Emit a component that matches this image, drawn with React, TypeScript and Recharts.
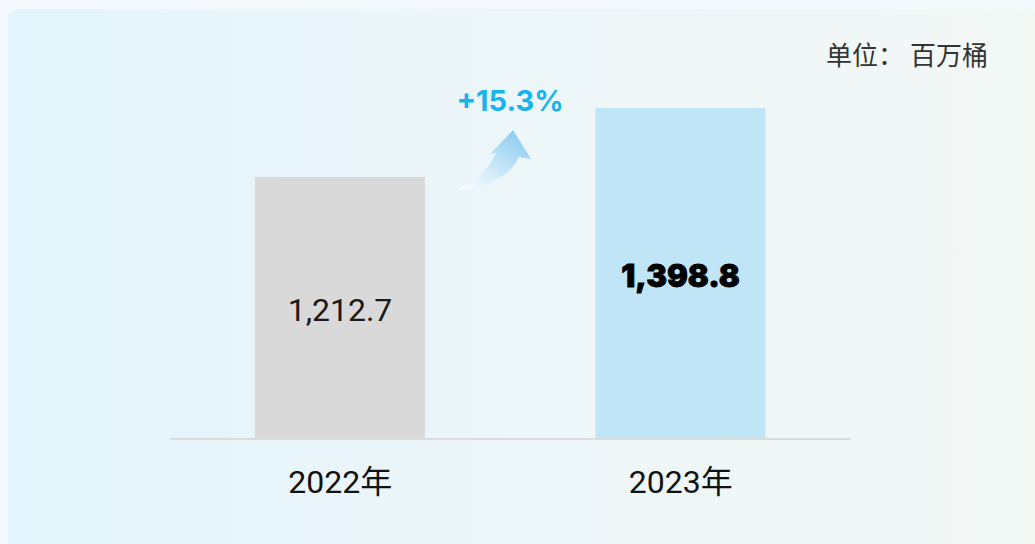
import React from 'react';
import { Bar, BarChart, Cell, LabelList, XAxis, YAxis } from 'recharts';

const YEARS = ['2022年', '2023年'];
const VOLUMES = [1212.7, 1398.8];
const BAR_COLORS = ['#d9d9d9', '#c0e5f7'];
const GROWTH = '+15.3%';
const UNIT_LABEL = '单位：';
const UNIT = '百万桶';

const FONT = 'Roboto, "Noto Sans CJK SC", sans-serif';

const data = YEARS.map((year, i) => ({ year, value: VOLUMES[i] }));

function ValueLabel(props: any) {
  const { x, y, width, height, value, index } = props;
  const bold = index === 1;
  return (
    <text
      x={x + width / 2}
      y={y + height / 2 + 2}
      textAnchor="middle"
      dominantBaseline="central"
      fontFamily={bold ? 'Inter, "Noto Sans", sans-serif' : FONT}
      fontSize={bold ? 31 : 32}
      fontWeight={bold ? 900 : 400}
      fill={bold ? '#000' : '#1a1a1a'}
      stroke={bold ? '#000' : 'none'}
      strokeWidth={bold ? 0.8 : 0}
    >
      {Number(value).toLocaleString('en-US', { minimumFractionDigits: 1 })}
    </text>
  );
}

function YearTick({ x, y, payload }: any) {
  return (
    <text x={x} y={y + 46} textAnchor="middle" fontFamily={FONT} fontSize={32} fill="#111">
      {payload.value}
    </text>
  );
}

export default function App() {
  return (
    <div style={{ position: 'fixed', left: 0, top: 0, width: 1035, height: 544, background: '#f3f9fc', overflow: 'hidden' }}>
      <div
        style={{
          position: 'absolute',
          left: 8,
          top: 9,
          right: 0,
          bottom: 0,
          borderTopLeftRadius: 10,
          background: 'linear-gradient(90deg, #e3f4fc 0%, #edf6f9 50%, #f3f8f5 100%)',
        }}
      />
      <div
        style={{
          position: 'absolute',
          right: 47,
          top: 35,
          fontFamily: '"Noto Sans CJK SC", sans-serif',
          fontSize: 26,
          color: '#333',
          whiteSpace: 'pre',
        }}
      >
        <span>{UNIT_LABEL}</span>
        <span style={{ marginLeft: 6 }}>{UNIT}</span>
      </div>
      <div
        style={{
          position: 'absolute',
          left: 510,
          top: 100,
          transform: 'translate(-50%, -50%)',
          fontFamily: 'Inter, "Noto Sans", sans-serif',
          fontWeight: 700,
          fontSize: 29,
          color: '#1ab4ec',
        }}
      >
        {GROWTH}
      </div>
      <svg width={1035} height={544} style={{ position: 'absolute', left: 0, top: 0 }}>
        <defs>
          <linearGradient id="arrowFill" x1="0" y1="1" x2="0.7" y2="0">
            <stop offset="0%" stopColor="#ffffff" stopOpacity={0.9} />
            <stop offset="100%" stopColor="#8ecdf1" />
          </linearGradient>
        </defs>
        <path
          d="M458,189 Q485,178 496,153 L490,154 L513,130 L531,159 L519,157 Q505,186 458,190 Z"
          fill="url(#arrowFill)"
        />
      </svg>
      <div style={{ position: 'absolute', left: 0, top: 0 }}>
        <BarChart width={1035} height={544} data={data} margin={{ top: 89, right: 184, bottom: 0, left: 170 }} barSize={170}>
          <XAxis
            dataKey="year"
            height={105}
            axisLine={{ stroke: '#dcdcdc', strokeWidth: 2 }}
            tickLine={false}
            tick={<YearTick />}
            interval={0}
          />
          <YAxis width={0} tick={false} tickLine={false} axisLine={false} domain={[506, 1450]} />
          <Bar dataKey="value" isAnimationActive={false}>
            {data.map((d, i) => (
              <Cell key={d.year} fill={BAR_COLORS[i]} />
            ))}
            <LabelList dataKey="value" content={<ValueLabel />} />
          </Bar>
        </BarChart>
      </div>
    </div>
  );
}
